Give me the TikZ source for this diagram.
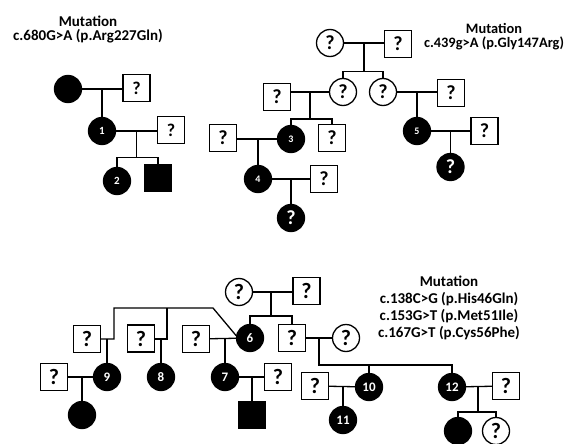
\documentclass[tikz,border=0pt]{standalone}
\usepackage{fontspec}
\setmainfont{Carlito}
\usetikzlibrary{calc}
\tikzset{
  base/.style={inner sep=0pt, line width=1.3pt},
  sqn/.style={base, draw, rectangle, minimum size=27pt},
  sqf/.style={sqn, fill=black},
  crn/.style={base, draw, circle, minimum size=27pt},
  crf/.style={crn, fill=black, text=white},
  qA/.style={font=\bfseries\fontsize{18}{18}\selectfont},
  qB/.style={font=\bfseries\fontsize{20}{20}\selectfont},
  qC/.style={font=\bfseries\fontsize{22}{22}\selectfont},
  nS/.style={font=\bfseries\fontsize{10}{10}\selectfont},
  nM/.style={font=\bfseries\fontsize{11}{11}\selectfont},
  nL/.style={font=\bfseries\fontsize{13}{13}\selectfont},
  ln/.style={line width=1.3pt},
  mut/.style={align=center, inner sep=0pt, font=\bfseries\fontsize{15}{14.5}\selectfont},
  mutR/.style={align=center, inner sep=0pt, font=\bfseries\fontsize{14.4}{14}\selectfont},
  mutL/.style={align=center, inner sep=0pt, font=\bfseries\fontsize{15}{17}\selectfont}
}
\begin{document}
\begin{tikzpicture}[x=1pt,y=-1pt]
\useasboundingbox (0,0) rectangle (565,444);

% ---------- Pedigree A ----------
\node[mut, anchor=base] (tA) at (88,41) {Mutation\\c.680G>A (p.Arg227Gln)};
\node[crf] (a0) at (68,89) {};
\node[sqn, qA] (a0p) at (136.5,88) {?};
\node[crf, nM] (a1) at (102,131) {1};
\node[sqn, qA] (a1p) at (171,130) {?};
\node[crf, nM] (a2) at (117,181) {2};
\node[sqf] (a3) at (158,178) {};
\draw[ln] (a0.east) -- (a0.east -| a0p.west);
\draw[ln] (a1.north) -- (a1 |- a0);
\draw[ln] (a1.east) -- (a1.east -| a1p.west);
\coordinate (ma) at ($(a1)!.5!(a1p)$);
\draw[ln] (ma) -- ++(0,27) coordinate (sa);
\draw[ln] (a2.north) |- (sa) -| (a3.north);

% ---------- Pedigree B ----------
\node[mutR, anchor=base] (tB) at (494,48) {Mutation\\c.439g>A (p.Gly147Arg)};
\node[crn, qB] (b0) at (330,43) {?};
\node[sqn, qB] (b0p) at (398,44) {?};
\node[crn, qB] (b1) at (343,92) {?};
\node[crn, qB] (b2) at (383,92) {?};
\node[sqn, qB] (b1p) at (277,97) {?};
\node[crf, nS] (b3) at (291,139) {3};
\node[sqn, qB] (b3s) at (332,138) {?};
\node[sqn, qB] (b3p) at (223,138) {?};
\node[crf, nS] (b4) at (258,179) {4};
\node[sqn, qB] (b4p) at (324,179) {?};
\node[crf, qB] (b4c) at (291,218) {?};
\node[sqn, qB] (b2p) at (451,93) {?};
\node[crf, nS] (b5) at (417,131) {5};
\node[sqn, qB] (b5p) at (484.5,131) {?};
\node[crf, qB] (b5c) at (450.5,167) {?};
\draw[ln] (b0.east) -- (b0.east -| b0p.west);
\coordinate (mb0) at ($(b0)!.5!(b0p)$);
\draw[ln] (mb0) -- ++(0,28) coordinate (sb0);
\draw[ln] (b1.north) |- (sb0) -| (b2.north);
\draw[ln] (b1.west) -- (b1.west -| b1p.east);
\coordinate (mb1) at (310,92);
\draw[ln] (mb1) -- (310,119) coordinate (sb1);
\draw[ln] (b3.north) |- (sb1) -| (b3s.north);
\draw[ln] (b3.west) -- (b3.west -| b3p.east);
\draw[ln] (b4.north) -- (b4 |- b3);
\draw[ln] (b4.east) -- (b4.east -| b4p.west);
\draw[ln] (b4c.north) -- (b4c |- b4);
\draw[ln] (b2.east) -- (b2.east -| b2p.west);
\draw[ln] (b5.north) -- (b5 |- b2);
\draw[ln] (b5.east) -- (b5.east -| b5p.west);
\draw[ln] (b5c.north) -- (b5c |- b5);

% ---------- Pedigree C ----------
\node[mutL, anchor=base] (tC) at (449,337) {Mutation\\c.138C>G (p.His46Gln)\\c.153G>T (p.Met51Ile)\\c.167G>T (p.Cys56Phe)};
\node[crn, qC] (c0) at (239,292) {?};
\node[sqn, qC] (c0p) at (306.5,291) {?};
\node[crf, nL] (c6) at (250,338) {6};
\node[sqn, qC] (c6s) at (292,338) {?};
\node[crn, qC] (c6sp) at (346,338) {?};
\node[crf, nL] (c10) at (369,387) {10};
\node[sqn, qC] (c10p) at (315,386) {?};
\node[crf, nL] (c11) at (343,420) {11};
\node[crf, nL] (c12) at (452,387) {12};
\node[sqn, qC] (c12p) at (506,386) {?};
\node[crf] (c12a) at (458,431) {};
\node[crn, qC] (c12b) at (496,431) {?};
\node[sqn, qC] (p3) at (196,339) {?};
\node[crf, nL] (c7) at (225,377) {7};
\node[sqn, qC] (c7p) at (278,377) {?};
\node[sqf] (c7c) at (252,415) {};
\node[sqn, qC] (p2) at (141,338.5) {?};
\node[crf, nL] (c8) at (161,377) {8};
\node[sqn, qC] (p1) at (87,339) {?};
\node[crf, nL] (c9) at (107,377) {9};
\node[sqn, qC] (c9p) at (54,377) {?};
\node[crf] (c9c) at (82,415) {};

\draw[ln] (c0.east) -- (c0.east -| c0p.west);
\coordinate (mc0) at (271,292);
\draw[ln] (mc0) -- (271,316) coordinate (sc0);
\draw[ln] (c6.north) |- (sc0) -| (c6s.north);
\draw[ln] (c6s) -- (c6sp);
\coordinate (mc6) at (319,338);
\draw[ln] (mc6) -- (319,365) coordinate (sc6) -| (c12.north);
\draw[ln] (c10.north) -- (c10 |- sc6);
\draw[ln] (c10) -- (c10p);
\draw[ln] (c11.north) -- (c11 |- c10);
\draw[ln] (c12) -- (c12p);
\coordinate (mc12) at (478,386);
\draw[ln] (mc12) -- (478,412) coordinate (sc12);
\draw[ln] (c12a.north) |- (sc12) -| (c12b.north);

\draw[ln] (p3) -- (c6);
\draw[ln] (c7.north) -- (c7 |- c6);
\draw[ln] (c7) -- (c7p);
\draw[ln] (c7c.north) -- (c7c |- c7);

\coordinate (k1) at (213,308);
\coordinate (k0) at (114,308);
\coordinate (k2) at (167,308);
\draw[ln] (c6.170) -- (k1) -- (k0) -- (114,339) -- (p1.east |- 0,339);
\draw[ln] (k2) -- (167,339) -- (p2.east |- 0,339);
\draw[ln] (c9.north) -- (107,339);
\draw[ln] (c8.north) -- (161,339);
\draw[ln] (c9) -- (c9p);
\draw[ln] (c9c.north) -- (c9c |- c9);
\end{tikzpicture}
\end{document}
